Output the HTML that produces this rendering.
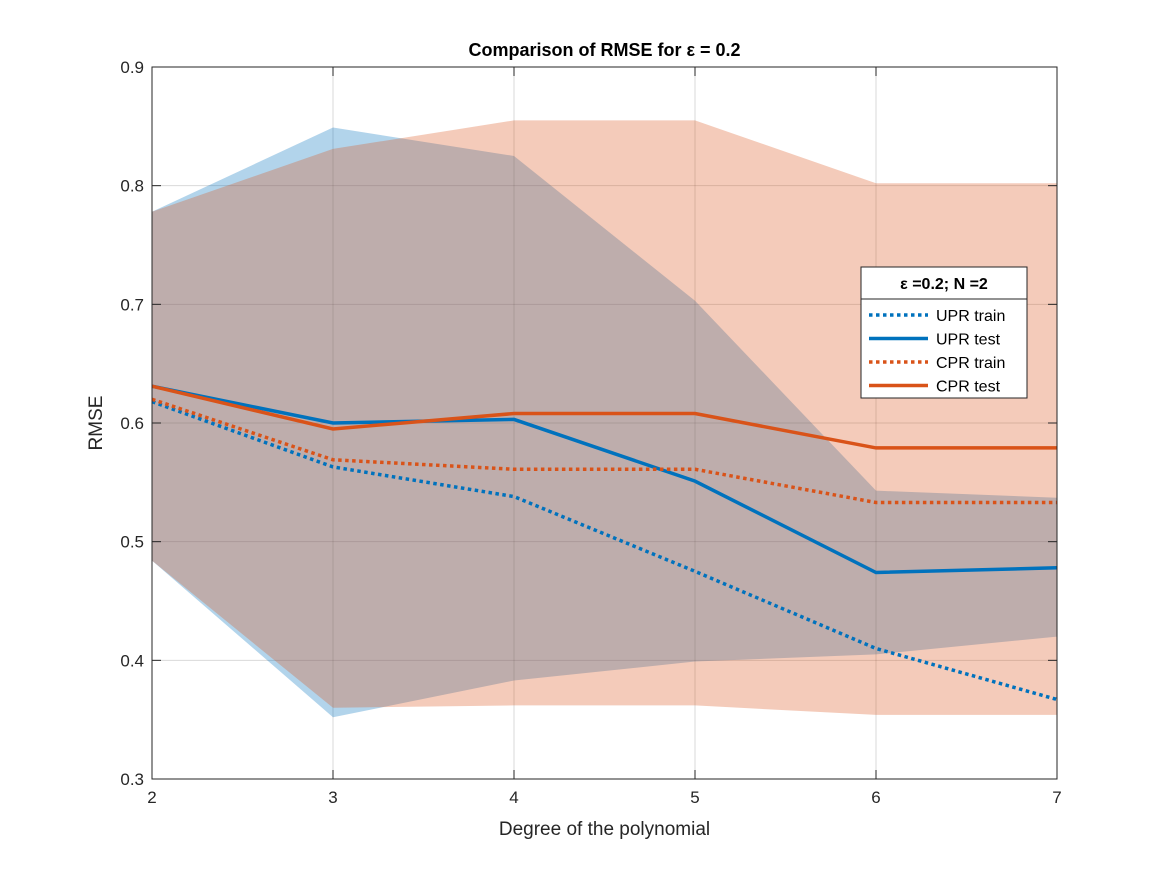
<!DOCTYPE html>
<html><head><meta charset="utf-8"><style>
body{margin:0;background:#fff;font-family:"Liberation Sans",sans-serif}
</style></head><body>
<svg id="c" width="1167" height="875" xmlns="http://www.w3.org/2000/svg"></svg>
<script>
const degrees=[2,3,4,5,6,7];
const uprTrain=[0.618,0.563,0.538,0.475,0.410,0.367];
const uprTest=[0.631,0.600,0.603,0.551,0.474,0.478];
const cprTrain=[0.620,0.569,0.561,0.561,0.533,0.533];
const cprTest=[0.631,0.595,0.608,0.608,0.579,0.579];
const uprUpper=[0.778,0.849,0.825,0.703,0.543,0.537];
const uprLower=[0.484,0.352,0.383,0.399,0.405,0.420];
const cprUpper=[0.778,0.831,0.855,0.855,0.802,0.802];
const cprLower=[0.484,0.360,0.362,0.362,0.354,0.354];
const yTicks=[0.3,0.4,0.5,0.6,0.7,0.8,0.9];
const xTicks=[2,3,4,5,6,7];
const L=152,R=1057,T=67,B=779;
const xs=v=>L+(v-2)/5*(R-L);
const ys=v=>B-(v-0.3)/0.6*(B-T);
const svg=document.getElementById('c');
const NS='http://www.w3.org/2000/svg';
function mk(t,a,p){const e=document.createElementNS(NS,t);for(const k in a)e.setAttribute(k,a[k]);(p||svg).appendChild(e);return e;}
let e=mk('rect',{x:L,y:T,width:R-L,height:B-T,fill:'#fff'});


// grid
xTicks.forEach(t=>{const g=mk('line',{x1:xs(t),x2:xs(t),y1:T,y2:B,stroke:'#000','stroke-opacity':0.15});

});
yTicks.forEach(t=>{const g=mk('line',{x1:L,x2:R,y1:ys(t),y2:ys(t),stroke:'#000','stroke-opacity':0.15});

});
function band(up,lo,col,name){
 let pts=degrees.map((d,i)=>xs(d)+','+ys(up[i]));
 pts=pts.concat(degrees.slice().reverse().map((d,j)=>{const i=degrees.length-1-j;return xs(d)+','+ys(lo[i]);}));
 const p=mk('polygon',{points:pts.join(' '),fill:col,'fill-opacity':0.3});
 
 
}
band(uprUpper,uprLower,'#0072BD','upr-band');
band(cprUpper,cprLower,'#D95319','cpr-band');
function line(vals,col,dash,name){
 const p=mk('polyline',{points:degrees.map((d,i)=>xs(d)+','+ys(vals[i])).join(' '),fill:'none',stroke:col,'stroke-width':3.5,'stroke-dasharray':dash||'none'});
 
 
}
line(uprTrain,'#0072BD','3.5 3.5','upr-train-line');
line(uprTest,'#0072BD','','upr-test-line');
line(cprTrain,'#D95319','3.5 3.5','cpr-train-line');
line(cprTest,'#D95319','','cpr-test-line');
// axes box
e=mk('rect',{x:L,y:T,width:R-L,height:B-T,fill:'none',stroke:'#262626','stroke-width':1});


xTicks.forEach(t=>{
 mk('line',{x1:xs(t),x2:xs(t),y1:B,y2:B-9,stroke:'#262626'});mk('line',{x1:xs(t),x2:xs(t),y1:T,y2:T+9,stroke:'#262626'});
 const tx=mk('text',{x:xs(t),y:B+24,'text-anchor':'middle','font-size':17,fill:'#262626'});tx.textContent=t;
 
 
});
yTicks.forEach(t=>{
 mk('line',{x1:L,x2:L+9,y1:ys(t),y2:ys(t),stroke:'#262626'});mk('line',{x1:R,x2:R-9,y1:ys(t),y2:ys(t),stroke:'#262626'});
 const tx=mk('text',{x:L-8,y:ys(t)+6,'text-anchor':'end','font-size':17,fill:'#262626'});tx.textContent=t.toFixed(1);
 
 
});
e=mk('text',{x:(L+R)/2,y:56,'text-anchor':'middle','font-size':18,'font-weight':'bold',fill:'#000'});e.textContent='Comparison of RMSE for ε = 0.2';


e=mk('text',{x:(L+R)/2,y:835,'text-anchor':'middle','font-size':19,fill:'#262626'});e.textContent='Degree of the polynomial';


e=mk('text',{x:0,y:0,'text-anchor':'middle','font-size':19,fill:'#262626',transform:'translate(102,423) rotate(-90)'});e.textContent='RMSE';


// legend
const lg=mk('g',{});


mk('rect',{x:861,y:267,width:166,height:131,fill:'#fff',stroke:'#262626'},lg);
mk('line',{x1:861,x2:1027,y1:299,y2:299,stroke:'#262626'},lg);
e=mk('text',{x:944,y:289,'text-anchor':'middle','font-size':16,'font-weight':'bold',fill:'#000'},lg);e.textContent='ε =0.2; N =2';


const entries=[['UPR train','#0072BD',true],['UPR test','#0072BD',false],['CPR train','#D95319',true],['CPR test','#D95319',false]];
entries.forEach((en,i)=>{
 const y=315+i*23.5;
 const g=mk('g',{},lg);
 
 
 mk('line',{x1:869,x2:928,y1:y,y2:y,stroke:en[1],'stroke-width':3.5,'stroke-dasharray':en[2]?'3.5 3.5':'none'},g);
 const t=mk('text',{x:936,y:y+6,'font-size':16,fill:'#000'},g);t.textContent=en[0];
});
</script>
</body></html>
